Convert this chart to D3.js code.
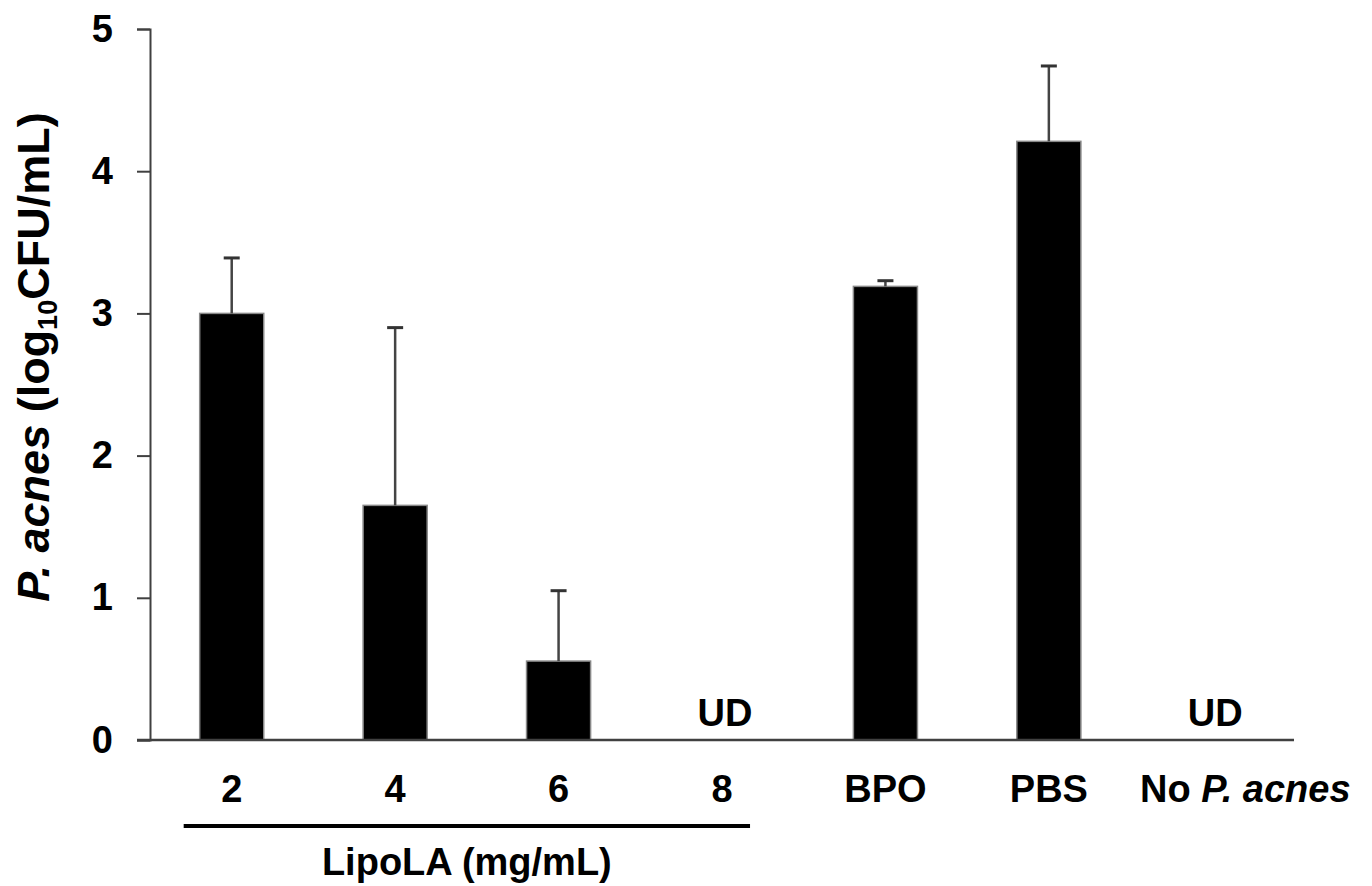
<!DOCTYPE html>
<html>
<head>
<meta charset="utf-8">
<script src="https://cdn.jsdelivr.net/npm/d3@7"></script>
<style>
  body { margin: 0; background: #fff; }
  text { font-family: "Liberation Sans", Arial, sans-serif; font-weight: bold; fill: #000; }
</style>
</head>
<body>
<script>
"use strict";

///////////////////
// data
///////////////////
var categories = ["2", "4", "6", "8", "BPO", "PBS", "No P. acnes"];
var means = [3.0, 1.65, 0.555, null, 3.19, 4.21, null];   // null = UD
var errors = [0.39, 1.25, 0.495, null, 0.04, 0.53, null];
var yTicks = [0, 1, 2, 3, 4, 5];
var groupLabel = "LipoLA (mg/mL)";
var groupMembers = ["2", "4", "6", "8"];

var rows = categories.map(function(c, i) {
    return { cat: c, mean: means[i], err: errors[i] };
});

///////////////////
// layout
///////////////////
var W = 1372, H = 886;
var plotLeft = 150, plotRight = 1294, plotTop = 29, plotBottom = 740;

var svg = d3.select("body").append("svg")
    .attr("width", W).attr("height", H);

var x = d3.scaleBand()
    .domain(categories)
    .range([plotLeft, plotRight])
    .paddingInner(0.608)
    .paddingOuter(0.304);
var y = d3.scaleLinear().domain([0, 5]).range([plotBottom, plotTop]);
var bw = x.bandwidth();

// y axis
var yAxis = svg.append("g")
    .attr("transform", "translate(" + plotLeft + ",0)")
    .call(d3.axisLeft(y).tickValues(yTicks).tickFormat(d3.format("d"))
        .tickSize(13).tickPadding(24).tickSizeOuter(13));
yAxis.select(".domain").attr("stroke", "#404040").attr("stroke-width", 2);
yAxis.selectAll(".tick line").attr("stroke", "#404040").attr("stroke-width", 2);
yAxis.selectAll(".tick text")
    .style("font-family", "'Liberation Sans', Arial, sans-serif")
    .style("font-weight", "bold")
    .style("font-size", "38px")
    .attr("fill", "#000");

// bars
svg.selectAll("rect.bar")
    .data(rows.filter(function(d) { return d.mean !== null; }))
    .enter().append("rect")
    .attr("class", "bar")
    .attr("x", function(d) { return x(d.cat); })
    .attr("y", function(d) { return y(d.mean); })
    .attr("width", bw)
    .attr("height", function(d) { return y(0) - y(d.mean); })
    .attr("fill", "#000")
    .attr("stroke", "#888")
    .attr("stroke-width", 1.5);

// error bars (upper only)
var eb = svg.selectAll("g.err")
    .data(rows.filter(function(d) { return d.mean !== null; }))
    .enter().append("g").attr("class", "err");
eb.append("line")
    .attr("x1", function(d) { return x(d.cat) + bw / 2; })
    .attr("x2", function(d) { return x(d.cat) + bw / 2; })
    .attr("y1", function(d) { return y(d.mean); })
    .attr("y2", function(d) { return y(d.mean + d.err); })
    .attr("stroke", "#444").attr("stroke-width", 2.5);
eb.append("line")
    .attr("x1", function(d) { return x(d.cat) + bw / 2 - 8; })
    .attr("x2", function(d) { return x(d.cat) + bw / 2 + 8; })
    .attr("y1", function(d) { return y(d.mean + d.err); })
    .attr("y2", function(d) { return y(d.mean + d.err); })
    .attr("stroke", "#333").attr("stroke-width", 3);

// x axis line
svg.append("line")
    .attr("x1", plotLeft - 13).attr("x2", plotRight)
    .attr("y1", y(0)).attr("y2", y(0))
    .attr("stroke", "#404040").attr("stroke-width", 2.5);

// UD labels
svg.selectAll("text.ud")
    .data(rows.filter(function(d) { return d.mean === null; }))
    .enter().append("text")
    .attr("class", "ud")
    .attr("x", function(d) { return x(d.cat) + bw / 2 + 3; })
    .attr("y", y(0) - 14)
    .attr("text-anchor", "middle")
    .style("font-size", "38px")
    .text("UD");

// category labels
var catText = svg.selectAll("text.cat")
    .data(rows)
    .enter().append("text")
    .attr("class", "cat")
    .attr("x", function(d) { return x(d.cat) + bw / 2 + (d.cat === "No P. acnes" ? 33 : 0); })
    .attr("y", 802)
    .attr("text-anchor", "middle")
    .style("font-size", "38px");
catText.each(function(d) {
    var t = d3.select(this);
    if (d.cat === "No P. acnes") {
        t.append("tspan").text("No ");
        t.append("tspan").style("font-style", "italic").text("P. acnes");
    } else {
        t.text(d.cat);
    }
});

// group bracket
var g0 = groupMembers[0], g1 = groupMembers[groupMembers.length - 1];
svg.append("line")
    .attr("x1", x(g0) - 16).attr("x2", x(g1) + bw - 4)
    .attr("y1", 826).attr("y2", 826)
    .attr("stroke", "#000").attr("stroke-width", 4);
svg.append("text")
    .attr("x", (x(g0) - 16 + x(g1) + bw - 4) / 2)
    .attr("y", 875)
    .attr("text-anchor", "middle")
    .style("font-size", "38px")
    .text(groupLabel);

// y label
var yl = svg.append("text")
    .attr("transform", "translate(49,357) rotate(-90)")
    .attr("text-anchor", "middle")
    .style("font-size", "45px");
yl.append("tspan").style("font-style", "italic").text("P. acnes");
yl.append("tspan").text(" (log");
yl.append("tspan").style("font-size", "27px").attr("dy", 8).text("10");
yl.append("tspan").attr("dy", -8).text("CFU/mL)");
</script>
</body>
</html>
